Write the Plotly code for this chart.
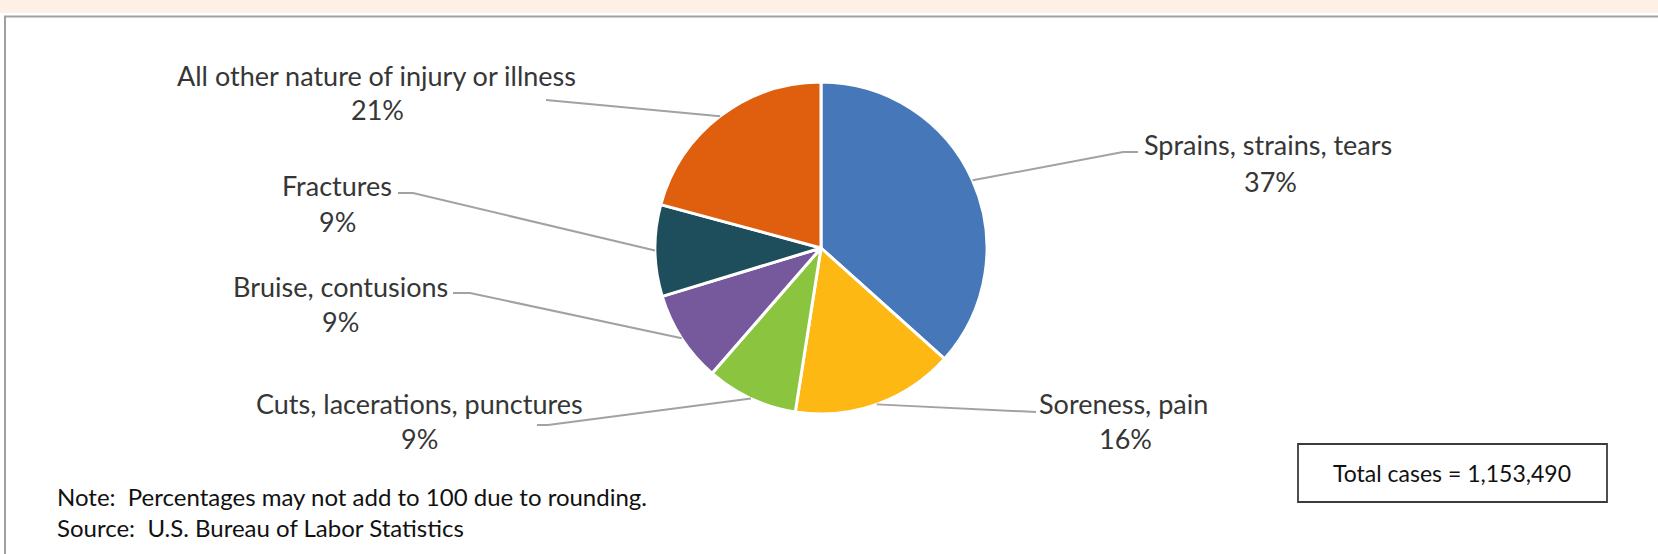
import math
import plotly.graph_objects as go

# Nature of injury or illness, share of total cases (%)
categories = [
    "Sprains, strains, tears",
    "Soreness, pain",
    "Cuts, lacerations, punctures",
    "Bruise, contusions",
    "Fractures",
    "All other nature of injury or illness",
]
percent_values = [37, 16, 9, 9, 9, 21]
slice_colors = ["#4677B8", "#FDB813", "#8BC53F", "#76589C", "#1E4D5B", "#DF5F0E"]
total_cases = "1,153,490"
note_lines = [
    "Note:  Percentages may not add to 100 due to rounding.",
    "Source:  U.S. Bureau of Labor Statistics",
]

W, H = 1658, 554


def px(x):
    return x / W


def py(y):
    return 1 - y / H


# pie placement in pixels
cx, cy, r = 821, 248, 166

# label anchors (pixel centres of the name line and of the percent line)
label_pos = [
    ((1268, 145), (1270, 181)),
    ((1123, 403), (1125, 438)),
    ((419, 403), (419, 438)),
    ((340, 286), (340, 321)),
    ((337, 185), (337, 221)),
    ((376, 75), (377, 110)),
]
# leader-line elbow points (pixels), from the pie outward
leader_tail = [
    [(1123, 152), (1138, 152)],
    [(1036, 412)],
    [(548, 425), (537, 425)],
    [(470, 293), (453, 293)],
    [(413, 193), (398, 193)],
    [(546, 100)],
]

LABEL_FONT = "Lato, 'Open Sans', sans-serif"
LABEL_COLOR = "#363636"
GRAY = "#A2A2A2"

fig = go.Figure()
fig.add_trace(
    go.Pie(
        labels=categories,
        values=percent_values,
        sort=False,
        direction="clockwise",
        rotation=0,
        marker=dict(colors=slice_colors, line=dict(color="white", width=3)),
        textinfo="none",
        hoverinfo="label+percent",
        showlegend=False,
        domain=dict(x=[px(cx - r), px(cx + r)], y=[py(cy + r), py(cy - r)]),
    )
)

shapes = []
annotations = []

# page band and frame
shapes.append(dict(type="rect", xref="paper", yref="paper", x0=0, x1=1,
                   y0=py(13), y1=1, fillcolor="#FDF0E7", line=dict(width=0), layer="below"))
shapes.append(dict(type="line", xref="paper", yref="paper", x0=px(4), x1=1,
                   y0=py(16.5), y1=py(16.5), line=dict(color="#A0A0A0", width=2)))
shapes.append(dict(type="line", xref="paper", yref="paper", x0=px(5), x1=px(5),
                   y0=py(16), y1=0, line=dict(color="#A0A0A0", width=2)))

# leader lines from each slice's mid angle on the rim
total = sum(percent_values)
cum = 0.0
for i, v in enumerate(percent_values):
    mid = (cum + v / 2) / total * 2 * math.pi
    cum += v
    sx = cx + r * math.sin(mid)
    sy = cy - r * math.cos(mid)
    pts = [(sx, sy)] + leader_tail[i]
    path = "M " + " L ".join(f"{px(x):.5f},{py(y):.5f}" for x, y in pts)
    shapes.append(dict(type="path", xref="paper", yref="paper", path=path,
                       line=dict(color=GRAY, width=2)))

# slice labels
for name, v, ((nx, ny), (qx, qy)) in zip(categories, percent_values, label_pos):
    annotations.append(dict(text=name, x=px(nx), y=py(ny), xref="paper", yref="paper",
                            xanchor="center", yanchor="middle", showarrow=False,
                            font=dict(family=LABEL_FONT, size=27, color=LABEL_COLOR)))
    annotations.append(dict(text=f"{v}%", x=px(qx), y=py(qy), xref="paper", yref="paper",
                            xanchor="center", yanchor="middle", showarrow=False,
                            font=dict(family=LABEL_FONT, size=27, color=LABEL_COLOR)))

# total cases box
shapes.append(dict(type="rect", xref="paper", yref="paper", x0=px(1298), x1=px(1607),
                   y0=py(502), y1=py(444), line=dict(color="#3C3C3C", width=1.8),
                   fillcolor="rgba(0,0,0,0)"))
annotations.append(dict(text=f"Total cases = {total_cases}", x=px(1452), y=py(473),
                        xref="paper", yref="paper", xanchor="center", yanchor="middle",
                        showarrow=False, font=dict(family=LABEL_FONT, size=23, color="#111111")))

# footnotes
for text, y in zip(note_lines, [496, 527]):
    annotations.append(dict(text=text, x=px(55), y=py(y), xref="paper", yref="paper",
                            xanchor="left", yanchor="middle", showarrow=False,
                            font=dict(family=LABEL_FONT, size=24, color="#111111")))

fig.update_layout(
    width=W,
    height=H,
    margin=dict(l=0, r=0, t=0, b=0),
    paper_bgcolor="white",
    plot_bgcolor="white",
    shapes=shapes,
    annotations=annotations,
)

fig.write_html("out.html", config={"displayModeBar": False})
